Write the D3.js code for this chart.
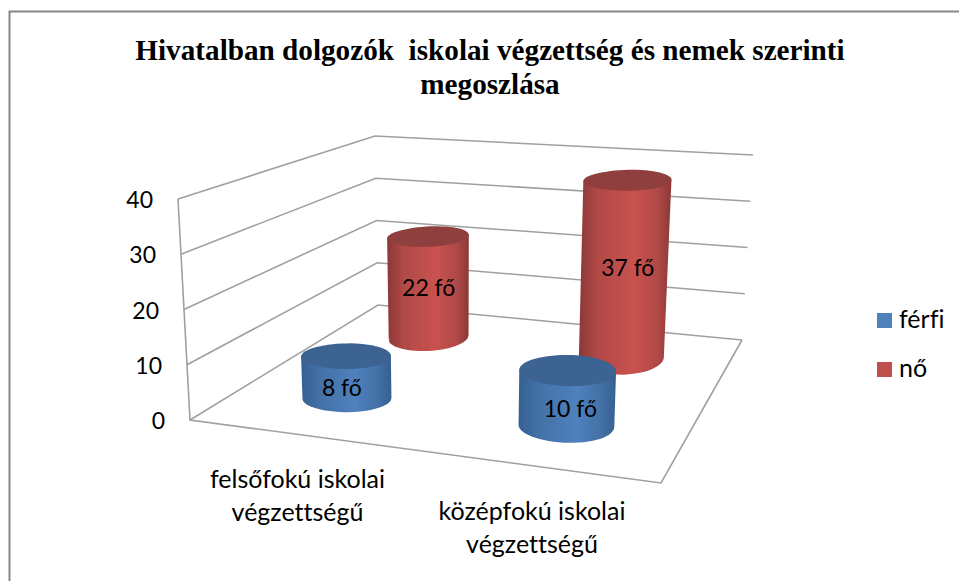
<!DOCTYPE html>
<html>
<head>
<meta charset="utf-8">
<script src="https://cdn.jsdelivr.net/npm/d3@7"></script>
<style>
  body { margin: 0; background: #fff; }
  svg { display: block; }
  text { white-space: pre; font-variant-ligatures: none; }
</style>
</head>
<body>
<svg id="chart" width="959" height="581"></svg>
<script>
// chart values
const titleLines = ["Hivatalban dolgozók  iskolai végzettség és nemek szerinti", "megoszlása"];
const categories = ["felsőfokú iskolai végzettségű", "középfokú iskolai végzettségű"];
const categoryLines = [["felsőfokú iskolai", "végzettségű"], ["középfokú iskolai", "végzettségű"]];
const seriesNames = ["férfi", "nő"];
const ferfiValues = [8, 10];
const noValues = [22, 37];
const valueLabels = [["8 fő", "10 fő"], ["22 fő", "37 fő"]];
const yTicks = [0, 10, 20, 30, 40];

const FONT = "Lato, sans-serif";
const svg = d3.select("#chart");

// corners of the 3d box as seen in the picture
const floor = { fl: [190, 420], fr: [661, 483], bl: [378, 305], br: [742, 340] };
const roof = { fl: [178, 199], fr: [671, 241], bl: [375, 136], br: [753, 155] };

const x = d3.scaleBand().domain(categories).range([-0.02, 0.98]);
const z = d3.scaleBand().domain(seriesNames).range([0.05, 1.05]);
const y = d3.scaleLinear().domain([0, 40]).range([0, 1]);

function mix(a, b, t) {
    return [a[0] + (b[0] - a[0]) * t, a[1] + (b[1] - a[1]) * t];
}

// u along the categories, d into the depth, v is the data value
function project(u, d, v) {
    const low = mix(mix(floor.fl, floor.fr, u), mix(floor.bl, floor.br, u), d);
    const high = mix(mix(roof.fl, roof.fr, u), mix(roof.bl, roof.br, u), d);
    return mix(low, high, y(v));
}

// outer frame
svg.append("path")
    .attr("d", "M9.5,581V11.5H959")
    .attr("fill", "none")
    .attr("stroke", "#868686")
    .attr("stroke-width", 2);

// title
svg.selectAll(".title")
    .data(titleLines)
    .enter()
    .append("text")
    .attr("class", "title")
    .attr("x", 490)
    .attr("y", function (d, i) { return 60 + i * 34; })
    .attr("text-anchor", "middle")
    .style("font-family", "'Liberation Serif', serif")
    .style("font-weight", "bold")
    .style("font-size", "29.2px")
    .text(function (d) { return d; });

// gridlines on the two walls
const line = d3.line();
const gridColor = "#a0a0a0";

svg.selectAll(".grid")
    .data(yTicks)
    .enter()
    .append("path")
    .attr("class", "grid")
    .attr("fill", "none")
    .attr("stroke", gridColor)
    .attr("stroke-width", 1.6)
    .attr("d", function (t) { return line([project(0, 0, t), project(0, 1, t), project(1, 1, t)]); });

// left edge and the front edges of the floor
svg.append("path")
    .attr("fill", "none")
    .attr("stroke", gridColor)
    .attr("stroke-width", 1.6)
    .attr("d", line([project(0, 0, 40), project(0, 0, 0), project(1, 0, 0), project(1, 1, 0)]));

// y labels
svg.selectAll(".ytick")
    .data(yTicks)
    .enter()
    .append("text")
    .attr("class", "ytick")
    .attr("x", function (t) { return project(0, 0, t)[0] - 25; })
    .attr("y", function (t) { return project(0, 0, t)[1] + 9; })
    .attr("text-anchor", "end")
    .style("font-family", FONT)
    .style("font-size", "23px")
    .text(function (t) { return t; });

// side shading of the cylinders
const shades = {
    "férfi": { dark: "#356091", mid: "#4371a6", light: "#4f81bd", top: "#3c6391", swatch: "#4f81bd" },
    "nő": { dark: "#8c3836", mid: "#b04947", light: "#c9524f", top: "#8f403e", swatch: "#c0504d" }
};
const defs = svg.append("defs");
seriesNames.forEach(function (s, i) {
    const g = defs.append("linearGradient").attr("id", "side" + i);
    g.append("stop").attr("offset", "0%").attr("stop-color", shades[s].dark);
    g.append("stop").attr("offset", "20%").attr("stop-color", shades[s].mid);
    g.append("stop").attr("offset", "60%").attr("stop-color", shades[s].light);
    g.append("stop").attr("offset", "85%").attr("stop-color", shades[s].mid);
    g.append("stop").attr("offset", "100%").attr("stop-color", shades[s].dark);
});

const angles = d3.range(0, 360, 6).map(function (a) { return a * Math.PI / 180; });

// the corner bilinear map is flatter than real perspective, so the right hand cylinders get a bit more radius
function circleAt(u, d, v) {
    const grow = 0.96 + (u - 0.23) * 0.24;
    return angles.map(function (a) {
        return project(u + 0.097 * grow * Math.cos(a), d + 0.112 * grow * Math.sin(a), v);
    });
}

// small shifts of the value labels, [series][category]
const labelNudge = [[[-5, 10], [3, 10]], [[0, 0], [3, -2]]];

// one cylinder: lower half of the base, sides up to the widest points of the top, then the top
function drawCylinder(g, u, d, value, seriesIndex, catIndex) {
    const s = seriesNames[seriesIndex];
    const base = circleAt(u, d, 0);
    const top = circleAt(u, d, value);
    const leftB = d3.least(base, function (p) { return p[0]; });
    const rightB = d3.least(base, function (p) { return -p[0]; });
    const leftT = d3.least(top, function (p) { return p[0]; });
    const rightT = d3.least(top, function (p) { return -p[0]; });
    const midY = (leftB[1] + rightB[1]) / 2;
    const lowerBase = base.filter(function (p) { return p[1] >= midY; })
        .sort(function (a, b) { return a[0] - b[0]; });

    g.append("path")
        .attr("fill", "url(#side" + seriesIndex + ")")
        .attr("d", line([leftT].concat([leftB], lowerBase, [rightB, rightT])) + "Z");
    g.append("path")
        .attr("fill", shades[s].top)
        .attr("d", line(top) + "Z");

    const mid = project(u, d, value / 2);
    const nudge = labelNudge[seriesIndex][catIndex];
    g.append("text")
        .attr("x", mid[0] + nudge[0])
        .attr("y", (project(u, d, value)[1] + project(u, d, 0)[1]) / 2 + 9 + nudge[1])
        .attr("text-anchor", "middle")
        .style("font-family", FONT)
        .style("font-size", "23px")
        .text(valueLabels[seriesIndex][catIndex]);
}

// back row first so the front row covers it
const rows = [noValues, ferfiValues];
rows.forEach(function (values, r) {
    const seriesIndex = 1 - r;
    const g = svg.append("g");
    values.forEach(function (v, i) {
        drawCylinder(g,
            x(categories[i]) + x.bandwidth() / 2,
            z(seriesNames[seriesIndex]) + z.bandwidth() / 2,
            v, seriesIndex, i);
    });
});

// category labels
const labelPos = [[297.5, 488], [532, 520]];
categoryLines.forEach(function (lines, i) {
    svg.selectAll(".cat" + i)
        .data(lines)
        .enter()
        .append("text")
        .attr("class", "cat" + i)
        .attr("x", labelPos[i][0])
        .attr("y", function (d, j) { return labelPos[i][1] + j * 33; })
        .attr("text-anchor", "middle")
        .style("font-family", FONT)
        .style("font-size", "25px")
        .text(function (d) { return d; });
});

// legend
const legend = svg.selectAll(".legend")
    .data(seriesNames)
    .enter()
    .append("g")
    .attr("class", "legend")
    .attr("transform", function (d, i) { return "translate(877," + (313 + i * 49) + ")"; });
legend.append("rect")
    .attr("width", 15)
    .attr("height", 15)
    .attr("fill", function (d) { return shades[d].swatch; });
legend.append("text")
    .attr("x", 22)
    .attr("y", 15)
    .style("font-family", FONT)
    .style("font-size", "25px")
    .text(function (d) { return d; });
</script>
</body>
</html>
